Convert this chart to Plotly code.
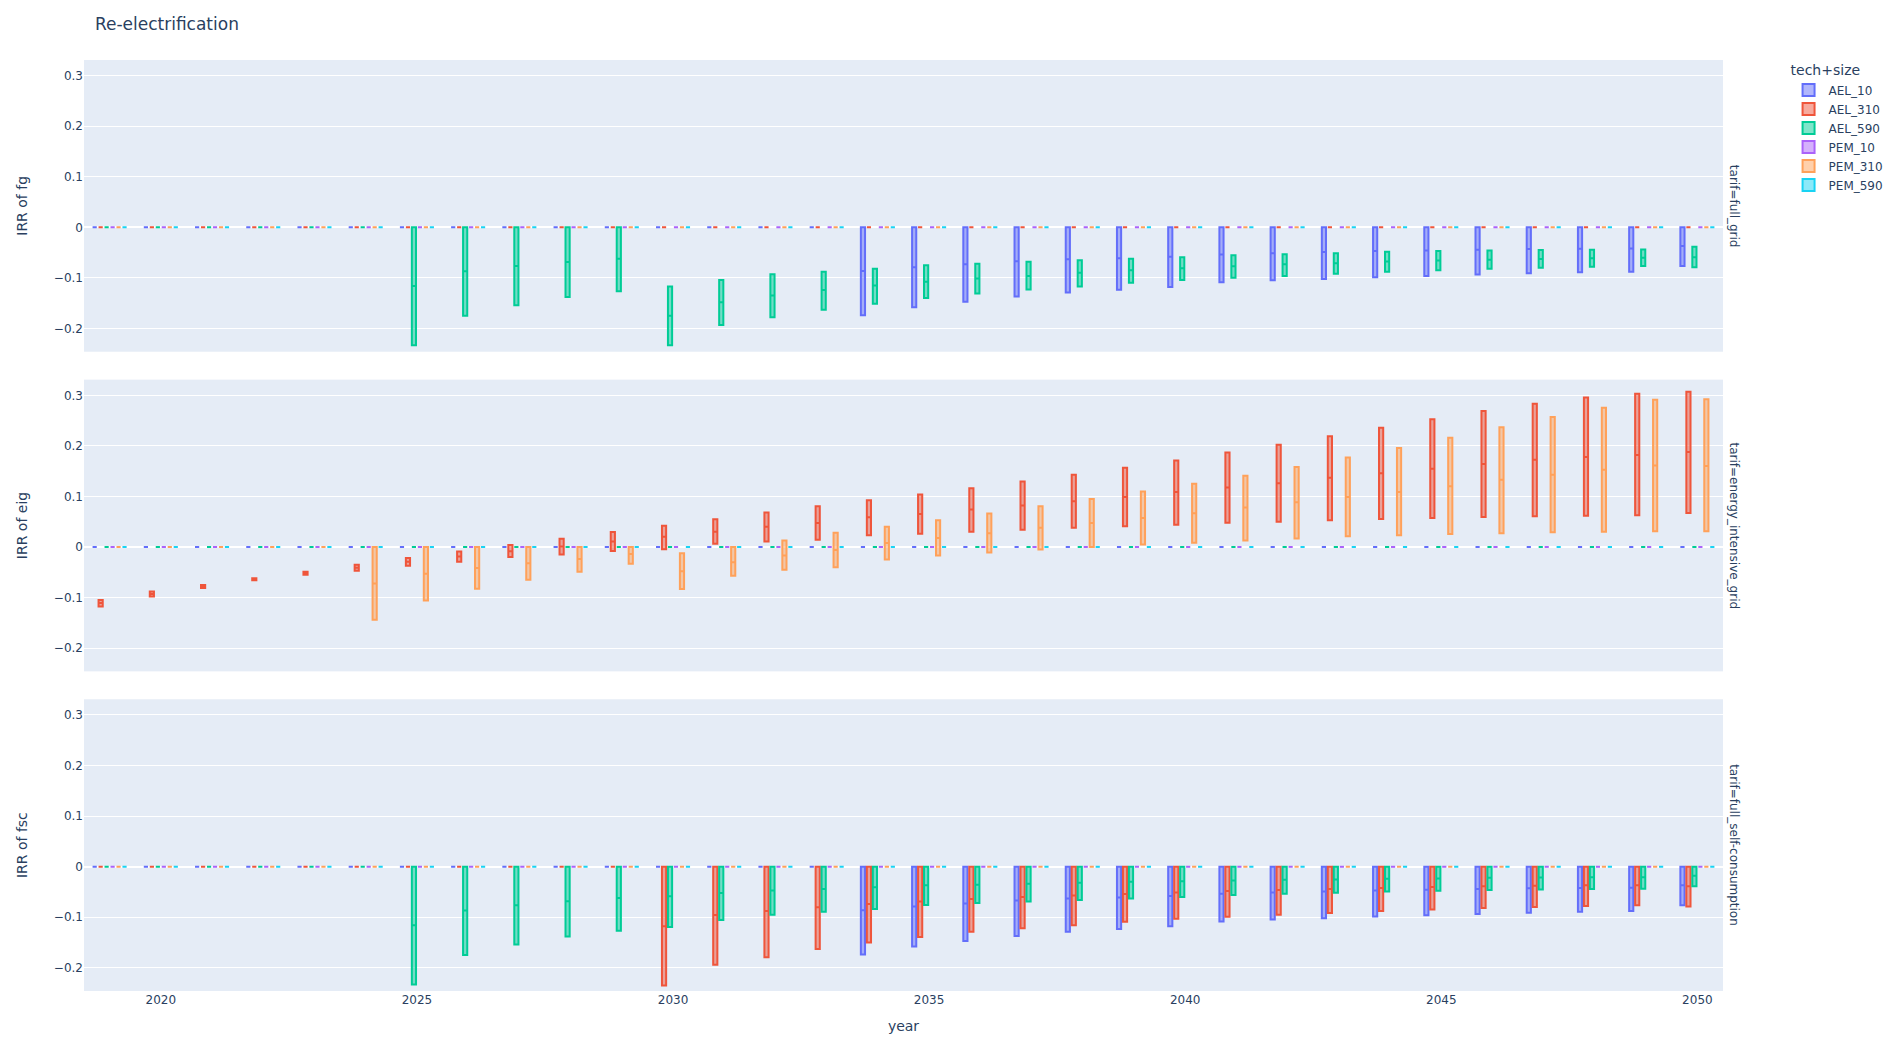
import plotly.graph_objects as go
from plotly.subplots import make_subplots

years = list(range(2019, 2051))
techs = ["AEL_10", "AEL_310", "AEL_590", "PEM_10", "PEM_310", "PEM_590"]
colors = ["#636efa", "#EF553B", "#00cc96", "#ab63fa", "#FFA15A", "#19d3f3"]
tariffs = ["full_grid", "energy_intensive_grid", "full_self-consumption"]
ytitles = ["IRR of fg", "IRR of eig", "IRR of fsc"]

zeros = [0.0] * 32

# ---- AEL_10 (same in full_grid and full_self-consumption) : 2019..2050
ael10_low = [0.0] * 15 + [-0.174, -0.158, -0.147, -0.137, -0.129, -0.1235, -0.118, -0.1085,
                          -0.1046, -0.102, -0.0987, -0.096, -0.0935, -0.091, -0.089, -0.0876, -0.0765]
ael10_med = [0.0] * 15 + [-0.0865, -0.079, -0.073, -0.067, -0.063, -0.061, -0.058, -0.0536,
                          -0.051, -0.049, -0.047, -0.0458, -0.0444, -0.043, -0.0425, -0.042, -0.037]
ael10_high = [0.0] * 32

# ---- full_grid AEL_590
fg590_low = [0.0] * 6 + [-0.233, -0.175, -0.154, -0.138, -0.1266, -0.233, -0.193, -0.178, -0.163,
                         -0.151, -0.140, -0.131, -0.123, -0.117, -0.1095, -0.104, -0.0997, -0.096,
                         -0.092, -0.088, -0.085, -0.082, -0.080, -0.078, -0.0765, -0.079]
fg590_med = [0.0] * 6 + [-0.116, -0.087, -0.0765, -0.0686, -0.062, -0.175, -0.148, -0.135, -0.124,
                         -0.115, -0.1075, -0.101, -0.096, -0.090, -0.085, -0.081, -0.077, -0.073,
                         -0.071, -0.0675, -0.0656, -0.064, -0.0625, -0.061, -0.060, -0.059]
fg590_high = [0.0] * 6 + [0.0, 0.0, 0.0, 0.0, 0.0, -0.117, -0.104, -0.093, -0.088,
                          -0.082, -0.075, -0.072, -0.068, -0.065, -0.062, -0.059, -0.055, -0.053,
                          -0.051, -0.0485, -0.047, -0.046, -0.045, -0.0442, -0.0437, -0.0386]

# ---- full_self-consumption AEL_310
fsc310_low = [0.0] * 11 + [-0.235, -0.194, -0.179, -0.163, -0.150, -0.139, -0.129, -0.122, -0.116,
                           -0.109, -0.103, -0.099, -0.095, -0.0915, -0.0876, -0.085, -0.082, -0.080,
                           -0.078, -0.0765, -0.079]
fsc310_med = [0.0] * 11 + [-0.118, -0.0957, -0.088, -0.0805, -0.074, -0.069, -0.064, -0.060, -0.057,
                           -0.054, -0.051, -0.048, -0.046, -0.044, -0.0425, -0.0405, -0.039, -0.038,
                           -0.037, -0.0366, -0.039]
fsc310_high = [0.0] * 32

# ---- full_self-consumption AEL_590
fsc590_low = [0.0] * 6 + [-0.233, -0.175, -0.154, -0.138, -0.1266, -0.1195, -0.1056, -0.095, -0.089,
                          -0.084, -0.076, -0.072, -0.069, -0.066, -0.063, -0.060, -0.056, -0.0536,
                          -0.0516, -0.049, -0.0477, -0.0464, -0.045, -0.0444, -0.0438, -0.0386]
fsc590_med = [0.0] * 6 + [-0.116, -0.087, -0.0765, -0.0686, -0.062, -0.0587, -0.052, -0.047, -0.044,
                          -0.041, -0.037, -0.036, -0.034, -0.032, -0.030, -0.029, -0.0275, -0.026,
                          -0.0255, -0.024, -0.0235, -0.022, -0.0216, -0.021, -0.021, -0.018]
fsc590_high = [0.0] * 32

# ---- energy_intensive_grid AEL_310
eig310_low = [-0.1175, -0.098, -0.081, -0.066, -0.055, -0.047, -0.037, -0.029, -0.020, -0.015,
              -0.008, -0.0046, 0.0066, 0.011, 0.0145, 0.023, 0.026, 0.030, 0.034, 0.038,
              0.041, 0.044, 0.048, 0.050, 0.053, 0.0555, 0.0575, 0.0595, 0.061, 0.062, 0.063, 0.0674]
eig310_med = [-0.111, -0.093, -0.078, -0.064, -0.052, -0.041, -0.029, -0.019, -0.0086, 0.001,
              0.011, 0.020, 0.030, 0.040, 0.0476, 0.059, 0.065, 0.074, 0.082, 0.0905,
              0.099, 0.109, 0.1176, 0.126, 0.137, 0.146, 0.1547, 0.164, 0.1725, 0.178, 0.182, 0.1877]
eig310_high = [-0.105, -0.088, -0.075, -0.062, -0.049, -0.035, -0.022, -0.009, 0.004, 0.0165,
               0.0297, 0.042, 0.055, 0.068, 0.0806, 0.0925, 0.104, 0.116, 0.1295, 0.143,
               0.1566, 0.171, 0.187, 0.202, 0.219, 0.236, 0.2525, 0.269, 0.2835, 0.2955, 0.303, 0.307]

# ---- energy_intensive_grid PEM_310
eigp310_low = [0.0] * 5 + [-0.144, -0.106, -0.0825, -0.0647, -0.049, -0.033, -0.083, -0.057, -0.045,
                           -0.040, -0.025, -0.017, -0.011, -0.005, 0.0, 0.005, 0.0086, 0.013, 0.017,
                           0.021, 0.023, 0.0258, 0.027, 0.029, 0.030, 0.031, 0.031]
eigp310_med = [0.0] * 5 + [-0.072, -0.053, -0.0416, -0.032, -0.024, -0.014, -0.048, -0.030, -0.017,
                           -0.006, 0.008, 0.018, 0.027, 0.038, 0.0476, 0.0575, 0.0668, 0.078, 0.0886,
                           0.099, 0.109, 0.120, 0.133, 0.143, 0.153, 0.161, 0.160]
eigp310_high = [0.0] * 5 + [0.0, 0.0, 0.0, 0.0, 0.0, 0.0, -0.0125, 0.0, 0.013,
                            0.028, 0.040, 0.053, 0.066, 0.0806, 0.095, 0.1097, 0.125, 0.141, 0.158,
                            0.177, 0.196, 0.216, 0.2366, 0.257, 0.2756, 0.291, 0.292]

zero_stats = (zeros, zeros, zeros)
facet_stats = [
    {"AEL_10": (ael10_low, ael10_med, ael10_high), "AEL_310": zero_stats,
     "AEL_590": (fg590_low, fg590_med, fg590_high), "PEM_10": zero_stats,
     "PEM_310": zero_stats, "PEM_590": zero_stats},
    {"AEL_10": zero_stats, "AEL_310": (eig310_low, eig310_med, eig310_high),
     "AEL_590": zero_stats, "PEM_10": zero_stats,
     "PEM_310": (eigp310_low, eigp310_med, eigp310_high), "PEM_590": zero_stats},
    {"AEL_10": (ael10_low, ael10_med, ael10_high), "AEL_310": (fsc310_low, fsc310_med, fsc310_high),
     "AEL_590": (fsc590_low, fsc590_med, fsc590_high), "PEM_10": zero_stats,
     "PEM_310": zero_stats, "PEM_590": zero_stats},
]

fig = make_subplots(rows=3, cols=1, shared_xaxes=True, vertical_spacing=0.03)

for r, stats in enumerate(facet_stats, start=1):
    for i, tech in enumerate(techs):
        low, med, high = stats[tech]
        fig.add_trace(go.Box(
            x=years, q1=low, median=med, q3=high, lowerfence=low, upperfence=high,
            name=tech, legendgroup=tech, showlegend=(r == 1),
            marker_color=colors[i], offsetgroup=tech, alignmentgroup="True",
            boxpoints=False,
        ), row=r, col=1)

for r, (yt, tf) in enumerate(zip(ytitles, tariffs), start=1):
    fig.update_yaxes(title_text=yt, title_standoff=22, range=[-0.246, 0.331], row=r, col=1)
    fig.add_annotation(text="tarif=" + tf, xref="paper", yref=f"y{'' if r == 1 else r} domain",
                       x=1.0, y=0.5, xanchor="left", yanchor="middle", textangle=90,
                       showarrow=False, xshift=2, font=dict(size=12))

fig.update_xaxes(title_text="year", row=3, col=1)
fig.update_layout(
    title_text="Re-electrification",
    font=dict(family="DejaVu Sans, Verdana, sans-serif"),
    boxmode="group",
    margin=dict(t=60, l=84, r=175, b=71, autoexpand=False),
    legend=dict(title_text="tech+size", tracegroupgap=0, x=1.04, y=1.003),
    width=1898, height=1062,
)
fig.write_html("out.html")
